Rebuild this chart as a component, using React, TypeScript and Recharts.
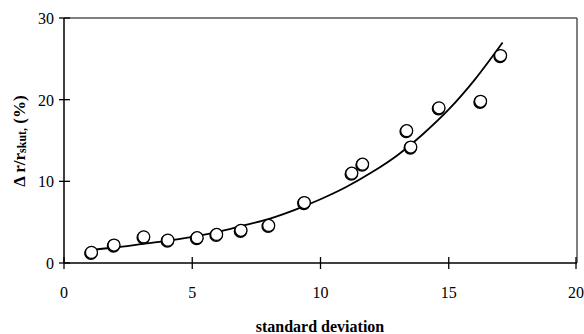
import { ComposedChart, Scatter, Line, XAxis, YAxis, ReferenceLine } from "recharts";

// measured points (standard deviation vs. relative error)
const sdValues = [1.07, 1.95, 3.11, 4.05, 5.19, 5.95, 6.9, 7.98, 9.37, 11.22, 11.64, 13.36, 13.52, 14.62, 16.24, 17.02];
const errValues = [1.3, 2.2, 3.2, 2.8, 3.1, 3.5, 4.0, 4.6, 7.4, 11.0, 12.1, 16.2, 14.2, 19.0, 19.8, 25.4];

// trend curve
const trendX = [1, 2, 3, 4, 5, 6, 7, 8, 9, 10, 11, 12, 13, 14, 15, 16, 17.1];
const trendY = [1.6, 1.9, 2.3, 2.7, 3.2, 3.8, 4.6, 5.4, 6.5, 7.8, 9.3, 11.1, 13.2, 15.8, 18.8, 22.4, 27.0];

const xTicks = [0, 5, 10, 15, 20];
const yTicks = [0, 10, 20, 30];

const points = sdValues.map((x, i) => ({ x, y: errValues[i] }));
const trend = trendX.map((x, i) => ({ x, y: trendY[i] }));

const serif = { fontFamily: '"Liberation Serif", "DejaVu Serif", serif' };

function XTick({ x, y, payload }: any) {
  return (
    <g>
      <line x1={x} x2={x} y1={y - 6} y2={y + 6} stroke="#000" strokeWidth={1.3} />
      <text x={x} y={y + 35} textAnchor="middle" style={serif} fontSize={16} fill="#000">
        {payload.value}
      </text>
    </g>
  );
}

function YTick({ x, y, payload }: any) {
  return (
    <g>
      <line x1={x - 5} x2={x + 6} y1={y} y2={y} stroke="#000" strokeWidth={1.3} />
      <text x={x - 10} y={y + 6} textAnchor="end" style={serif} fontSize={16} fill="#000">
        {payload.value}
      </text>
    </g>
  );
}

function Ring({ cx, cy }: any) {
  if (cx == null || cy == null) return null;
  return (
    <g>
      <circle cx={cx - 0.5} cy={cy + 0.8} r={6} fill="none" stroke="#000" strokeWidth={1.6} />
      <circle cx={cx} cy={cy} r={6} fill="#fff" stroke="#000" strokeWidth={1.3} />
    </g>
  );
}

export default function App() {
  return (
    <div style={{ position: "absolute", left: 0, top: 0, width: 584, height: 334, background: "#fff" }}>
      <ComposedChart width={584} height={334} margin={{ top: 18, right: 7, left: 0, bottom: 0 }}>
        <XAxis
          type="number"
          dataKey="x"
          domain={[0, 20]}
          ticks={xTicks}
          height={71}
          tickSize={0}
          tickMargin={0}
          tickLine={false}
          tick={<XTick />}
          axisLine={{ stroke: "#000", strokeWidth: 1.5 }}
          allowDataOverflow
        />
        <YAxis
          type="number"
          dataKey="y"
          domain={[0, 30]}
          ticks={yTicks}
          width={64}
          tickSize={0}
          tickMargin={0}
          tickLine={false}
          tick={<YTick />}
          axisLine={{ stroke: "#000", strokeWidth: 1.5 }}
          allowDataOverflow
        />
        <ReferenceLine y={30} stroke="#555" strokeWidth={1.5} />
        <ReferenceLine x={20} stroke="#555" strokeWidth={1.5} />
        <Line
          data={trend}
          dataKey="y"
          type="monotone"
          stroke="#000"
          strokeWidth={1.8}
          dot={false}
          activeDot={false}
          isAnimationActive={false}
        />
        <Scatter data={points} dataKey="y" shape={<Ring />} isAnimationActive={false} />
        <text x={320} y={332} textAnchor="middle" style={serif} fontSize={16} fontWeight="bold" fill="#000">
          standard deviation
        </text>
        <text
          x={25}
          y={141}
          transform="rotate(-90 25 141)"
          textAnchor="middle"
          style={serif}
          fontWeight="bold"
          fill="#000"
        >
          <tspan fontSize={17}>Δ r/r</tspan>
          <tspan fontSize={12} dy={1}>skut,</tspan>
          <tspan fontSize={17} dy={-1}> (%)</tspan>
        </text>
      </ComposedChart>
    </div>
  );
}
